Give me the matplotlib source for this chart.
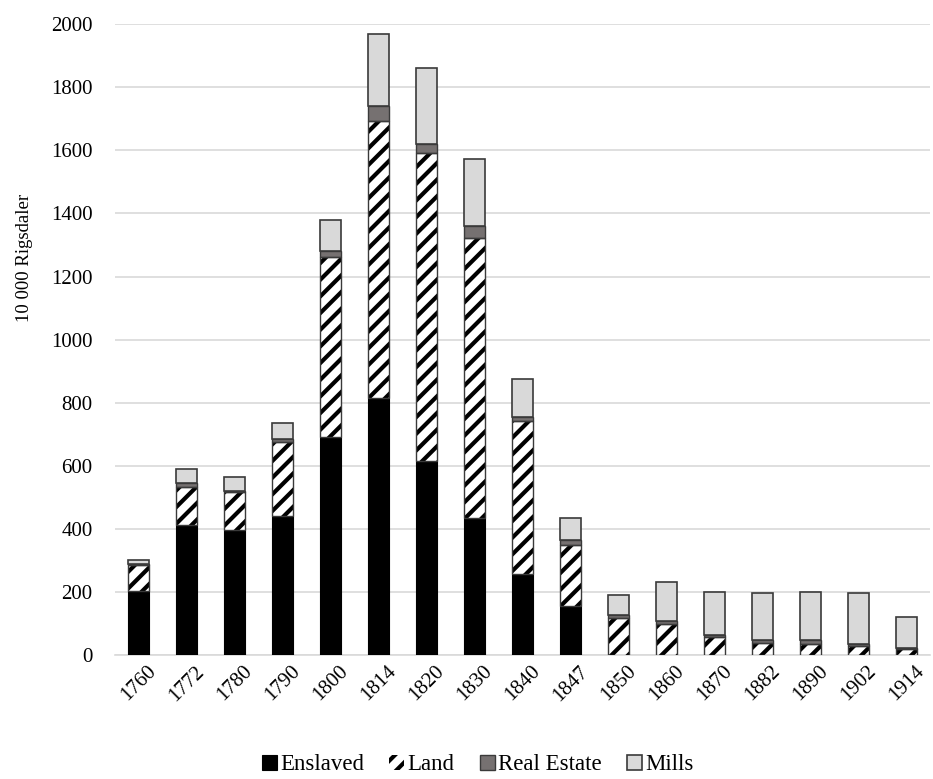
import numpy as np
import matplotlib
matplotlib.use("Agg")
import matplotlib.pyplot as plt

plt.rcParams['font.family'] = ['Liberation Serif', 'DejaVu Serif']
plt.rcParams['hatch.linewidth'] = 3.0

# Plantation wealth by component (10 000 Rigsdaler)
years     = ["1760", "1772", "1780", "1790", "1800", "1814", "1820", "1830", "1840",
             "1847", "1850", "1860", "1870", "1882", "1890", "1902", "1914"]
enslaved  = [202, 411, 398, 440, 693, 816, 614, 434, 258, 157, 0, 0, 0, 0, 0, 0, 0]
land      = [83, 122, 119, 237, 570, 877, 979, 888, 483, 191, 118, 100, 58, 37, 34, 28, 18]
realestate = [3, 12, 3, 7, 19, 47, 26, 39, 13, 18, 9, 9, 7, 10, 13, 7, 5]
mills     = [15, 45, 46, 51, 98, 230, 243, 213, 121, 70, 64, 122, 136, 151, 154, 163, 98]

x = np.arange(len(years))
w = 0.44
edge = "#3a3a3a"

fig = plt.figure(figsize=(9.33, 7.79), dpi=100)
ax = fig.add_axes([0.123, 0.159, 0.874, 0.81])

b1 = np.array(enslaved)
b2 = b1 + np.array(land)
b3 = b2 + np.array(realestate)

ax.bar(x, enslaved, w, color="black", edgecolor="black", linewidth=0.8,
       label="Enslaved", zorder=3)
ax.bar(x, land, w, bottom=b1, color="white", edgecolor="black", hatch="//",
       linewidth=0, label="Land", zorder=3)
ax.bar(x, land, w, bottom=b1, fill=False, edgecolor=edge, linewidth=1.0, zorder=4)
ax.bar(x, realestate, w, bottom=b2, color="#767171", edgecolor=edge,
       linewidth=1.0, label="Real Estate", zorder=3)
ax.bar(x, mills, w, bottom=b3, color="#d9d9d9", edgecolor=edge,
       linewidth=1.2, label="Mills", zorder=3)

# AXES
ax.set_ylim(0, 2000)
ax.set_xlim(-0.5, len(years) - 0.5)
ax.set_yticks(np.arange(0, 2001, 200))
ax.set_xticks(x)
ax.set_xticklabels(years, rotation=45, ha="center", va="top")
ax.tick_params(axis="both", length=0, labelsize=15)
ax.tick_params(axis="y", pad=16)
ax.tick_params(axis="x", pad=5)
ax.yaxis.grid(True, color="#d9d9d9", linewidth=1.2, zorder=0)
ax.set_axisbelow(True)
for s in ["top", "right", "left"]:
    ax.spines[s].set_visible(False)
ax.spines["bottom"].set_color("#d9d9d9")
ax.spines["bottom"].set_linewidth(1.2)
ax.set_ylabel("10 000 Rigsdaler", fontsize=13.5)
ax.yaxis.set_label_coords(-0.10, 0.63)

# LEGEND
handles, labels = ax.get_legend_handles_labels()
fig.legend(handles, labels, loc="center", bbox_to_anchor=(0.512, 0.018),
           ncol=4, frameon=False, fontsize=16.5, handlelength=0.65,
           handleheight=0.65, handletextpad=0.15, columnspacing=1.1)

fig.savefig("out.png", dpi=100)
